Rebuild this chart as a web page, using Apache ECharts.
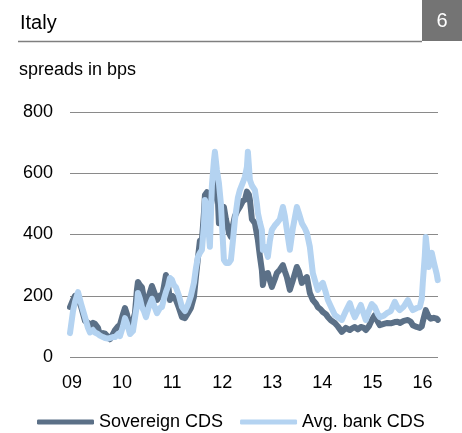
<!DOCTYPE html>
<html>
<head>
<meta charset="utf-8">
<style>
  html, body { margin: 0; padding: 0; background: #fff; }
  #chart { width: 462px; height: 433px; }
</style>
<script src="https://cdn.jsdelivr.net/npm/echarts@6/dist/echarts.min.js"></script>
</head>
<body>
<div id="chart"></div>
<script>
// Observation dates as fractional years
const years = [
  2008.960, 2009.020, 2009.060, 2009.120, 2009.180, 2009.259, 2009.319, 2009.359, 2009.419, 2009.459,
  2009.519, 2009.559, 2009.619, 2009.659, 2009.719, 2009.758, 2009.818, 2009.858, 2009.918, 2009.958,
  2010.018, 2010.058, 2010.098, 2010.158, 2010.218, 2010.257, 2010.297, 2010.317, 2010.357, 2010.397,
  2010.437, 2010.477, 2010.537, 2010.597, 2010.657, 2010.697, 2010.756, 2010.796, 2010.836, 2010.876,
  2010.916, 2010.956, 2010.996, 2011.036, 2011.076, 2011.136, 2011.196, 2011.255, 2011.315, 2011.375,
  2011.435, 2011.475, 2011.515, 2011.555, 2011.595, 2011.635, 2011.655, 2011.695, 2011.734, 2011.754,
  2011.794, 2011.834, 2011.854, 2011.894, 2011.934, 2011.974, 2012.034, 2012.074, 2012.134, 2012.174,
  2012.214, 2012.253, 2012.313, 2012.353, 2012.413, 2012.453, 2012.493, 2012.513, 2012.533, 2012.553,
  2012.593, 2012.653, 2012.693, 2012.713, 2012.752, 2012.792, 2012.812, 2012.852, 2012.912, 2012.952,
  2012.992, 2013.052, 2013.092, 2013.152, 2013.212, 2013.251, 2013.291, 2013.351, 2013.411, 2013.491,
  2013.531, 2013.591, 2013.651, 2013.691, 2013.750, 2013.810, 2013.870, 2013.910, 2013.970, 2014.010,
  2014.070, 2014.110, 2014.170, 2014.249, 2014.309, 2014.389, 2014.469, 2014.549, 2014.609, 2014.649,
  2014.709, 2014.768, 2014.828, 2014.868, 2014.928, 2014.988, 2015.048, 2015.108, 2015.148, 2015.228,
  2015.287, 2015.367, 2015.447, 2015.507, 2015.547, 2015.627, 2015.707, 2015.766, 2015.806, 2015.886,
  2015.946, 2015.986, 2016.006, 2016.046, 2016.066, 2016.086, 2016.126, 2016.166, 2016.186, 2016.226,
  2016.246, 2016.285, 2016.305
];

// Sovereign CDS spread, bps
const sovereignCDS = [
  163, 186, 200, 190, 165, 118, 112, 104, 112, 108,
   95,  72,  78,  76,  66,  58,  75,  88, 100, 105,
  140, 160, 140,  95, 120, 143, 220, 245, 235, 228,
  190, 163, 200, 232, 205, 186, 200, 196, 230, 268,
  240, 186, 200, 195, 186, 160, 130, 127, 143, 160,
  196, 260, 323, 380, 382, 470, 529, 538, 500, 480,
  513, 560, 600, 588, 437, 470, 490, 450, 405, 392,
  430, 460, 480, 490, 510, 513, 540, 545, 530, 513,
  450, 437, 400, 382, 330, 284, 235, 270, 274, 250,
  229, 255, 274, 285, 300, 280, 261, 219, 250, 294,
  280, 242, 255, 261, 209, 186, 175, 163, 155, 147,
  140, 131, 120, 111, 100,  82,  95,  88,  95,  98,
   90,  98,  95,  88, 100, 121, 137, 115, 104, 108,
  111, 110, 114, 115, 111, 118, 121, 115, 104,  98,
   95, 100, 115, 140, 153, 148, 131, 125, 121, 128,
  131, 125, 121
];

// Average bank CDS spread, bps
const bankCDS = [
   78, 150, 180, 212, 175, 130,  95,  80,  88,  80,
   75,  70,  65,  62,  60,  55,  65,  65,  75,  68,
  100, 127, 110,  75,  85,  88, 170, 209, 190, 163,
  150, 130, 165, 190, 160, 143, 160, 163, 190, 212,
  230, 258, 252, 235, 228, 200, 163, 150, 170, 200,
  242, 290, 327, 340, 350, 430, 513, 490, 400, 360,
  560, 640, 670, 610, 568, 500, 317, 307, 307, 317,
  380, 447, 520, 545, 570, 588, 620, 670, 676, 578,
  560, 545, 500, 470, 440, 415, 350, 360, 327, 380,
  415, 430, 437, 450, 490, 460, 415, 350, 420, 490,
  470, 437, 420, 405, 360, 274, 240, 219, 235, 242,
  210, 186, 165, 137, 130, 121, 150, 176, 145, 130,
  150, 170, 140, 121, 150, 173, 163, 140, 130, 135,
  143, 150, 180, 160, 153, 165, 186, 165, 153, 160,
  163, 190, 242, 330, 392, 360, 294, 330, 340, 310,
  307, 270, 251
];

const yearTicks = [2009, 2010, 2011, 2012, 2013, 2014, 2015, 2016];
const seriesNames = ['Sovereign CDS', 'Avg. bank CDS'];

const pairs = (vals) => years.map((t, i) => [t, vals[i]]);

const FONT = 'Liberation Sans, Arial, sans-serif';
const chart = echarts.init(document.getElementById('chart'), null, { renderer: 'canvas' });

chart.setOption({
  animation: false,
  backgroundColor: '#ffffff',
  textStyle: { fontFamily: FONT },
  title: [
    {
      text: 'Italy',
      left: 20, top: 13, padding: 0,
      textStyle: { fontFamily: FONT, fontSize: 20, fontWeight: 'normal', color: '#000' }
    },
    {
      text: 'spreads in bps',
      left: 19, top: 61, padding: 0,
      textStyle: { fontFamily: FONT, fontSize: 18, fontWeight: 'normal', color: '#000' }
    }
  ],
  graphic: [
    {
      type: 'rect',
      shape: { x: 422, y: 0, width: 40, height: 41 },
      style: { fill: '#747474' },
      silent: true
    },
    {
      type: 'text',
      x: 442, y: 21,
      style: {
        text: '6', fill: '#ffffff', font: '20px ' + FONT,
        align: 'center', verticalAlign: 'middle'
      },
      silent: true
    },
    {
      type: 'line',
      shape: { x1: 18, y1: 41.5, x2: 422, y2: 41.5 },
      style: { stroke: '#7f7f7f', lineWidth: 1.5 },
      silent: true
    }
  ],
  legend: {
    data: seriesNames,
    left: 32, top: 408,
    itemWidth: 57, itemHeight: 5,
    itemGap: 17,
    icon: 'roundRect',
    textStyle: { fontFamily: FONT, fontSize: 18, color: '#000' }
  },
  grid: { left: 70, right: 24, top: 112, bottom: 76 },
  xAxis: {
    type: 'value',
    min: 2008.96, max: 2016.31,
    axisLine: { show: false },
    axisTick: { show: false },
    splitLine: { show: false },
    axisLabel: {
      customValues: yearTicks,
      formatter: (v) => String(Math.round(v) % 100).padStart(2, '0'),
      fontFamily: FONT, fontSize: 18, color: '#000', margin: 17
    }
  },
  yAxis: {
    type: 'value',
    min: 0, max: 800, interval: 200,
    axisLine: { show: false },
    axisTick: { show: false },
    splitLine: { lineStyle: { color: '#8a8a8a', width: 1 } },
    axisLabel: { fontFamily: FONT, fontSize: 18, color: '#000', margin: 17 }
  },
  series: [
    {
      name: seriesNames[0],
      type: 'line',
      data: pairs(sovereignCDS),
      showSymbol: false,
      color: '#5b7087',
      lineStyle: { width: 6, color: '#5b7087', cap: 'round', join: 'round' }
    },
    {
      name: seriesNames[1],
      type: 'line',
      data: pairs(bankCDS),
      showSymbol: false,
      color: '#b4d3f1',
      lineStyle: { width: 6, color: '#b4d3f1', cap: 'round', join: 'round' }
    }
  ]
});
</script>
</body>
</html>
